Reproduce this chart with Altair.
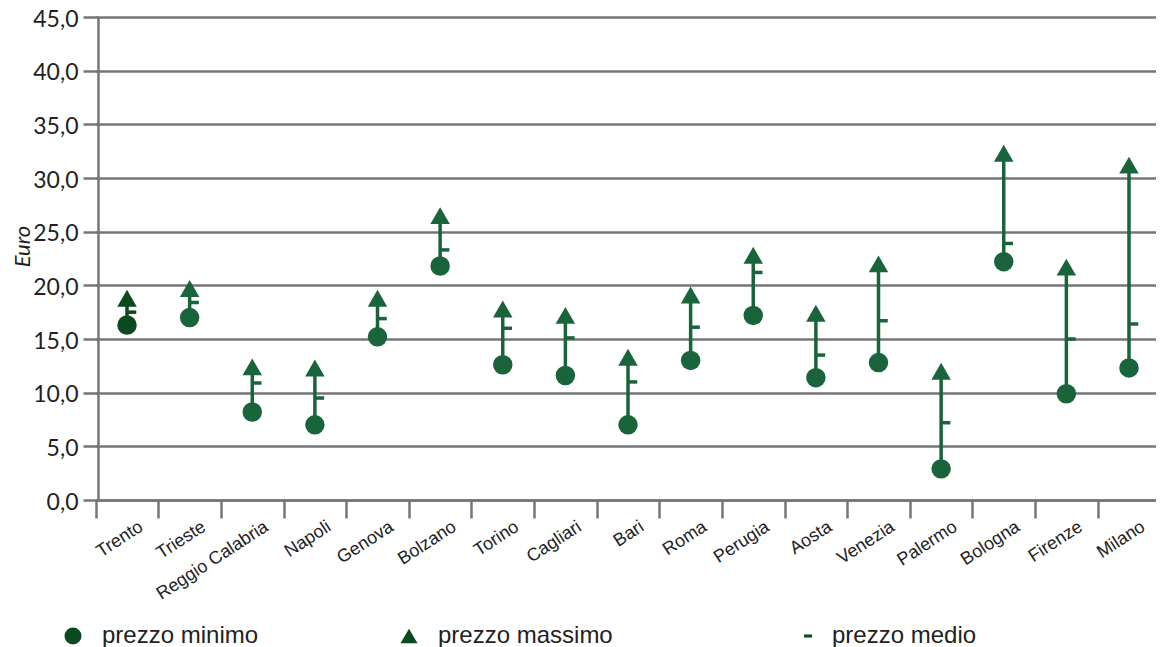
import altair as alt
import pandas as pd

cities = ["Trento", "Trieste", "Reggio Calabria", "Napoli", "Genova", "Bolzano",
          "Torino", "Cagliari", "Bari", "Roma", "Perugia", "Aosta", "Venezia",
          "Palermo", "Bologna", "Firenze", "Milano"]
prezzo_minimo = [16.3, 17.0, 8.2, 7.0, 15.2, 21.8, 12.6, 11.6, 7.0, 13.0, 17.2,
                 11.4, 12.8, 2.9, 22.2, 9.9, 12.3]
prezzo_massimo = [18.8, 19.7, 12.4, 12.3, 18.8, 26.5, 17.8, 17.2, 13.3, 19.1, 22.8,
                  17.4, 22.0, 12.0, 32.3, 21.7, 31.2]
prezzo_medio = [17.5, 18.4, 10.9, 9.5, 16.9, 23.3, 16.0, 15.1, 11.0, 16.1, 21.2,
                13.5, 16.7, 7.2, 23.9, 15.0, 16.4]
serie_labels = ["prezzo minimo", "prezzo massimo", "prezzo medio"]
y_ticks = [0, 5, 10, 15, 20, 25, 30, 35, 40, 45]

DARK = "#0b4a1f"
GREEN = "#1a643b"
GRID = "#767676"
DASH = "M0,-0.18 L0.95,-0.18 L0.95,0.18 L0,0.18 Z"

wide = pd.DataFrame({"citta": cities, "minimo": prezzo_minimo,
                     "massimo": prezzo_massimo, "medio": prezzo_medio})
rows_mm = []
rows_med = []
for c, a, b, m in zip(cities, prezzo_minimo, prezzo_massimo, prezzo_medio):
    rows_mm.append({"citta": c, "serie": serie_labels[0], "valore": a})
    rows_mm.append({"citta": c, "serie": serie_labels[1], "valore": b})
    rows_med.append({"citta": c, "serie_m": serie_labels[2], "valore": m})
long_mm = pd.DataFrame(rows_mm)
long_med = pd.DataFrame(rows_med)

color = alt.condition(alt.datum.citta != "Trento", alt.value(GREEN), alt.value(DARK))

x_scale = alt.Scale(paddingInner=0, paddingOuter=0, range=[-2.3, 1062.3])
x_enc = alt.X("citta:N", sort=cities, scale=x_scale,
              axis=alt.Axis(title=None, tickBand="extent", tickSize=18, tickWidth=2.5,
                            tickColor=GRID, domainColor=GRID, domainWidth=2.5,
                            labelAngle=327, labelAlign="right", labelBaseline="middle",
                            labelOffset=14, labelPadding=7, labelFont="Liberation Sans",
                            labelFontSize=18, labelColor="#222222", grid=False))
y_scale = alt.Scale(domain=[0, 45], nice=False)
y_axis = alt.Axis(values=y_ticks, labelExpr="replace(format(datum.value, '.1f'), '.', ',')",
                  tickSize=15, tickWidth=2.5, tickColor=GRID, labelPadding=5,
                  labelOffset=2,
                  labelFont="Lato", labelFontSize=23, labelColor="#231f20",
                  domainColor=GRID, domainWidth=2.5, grid=True, gridColor=GRID,
                  gridWidth=2.5, title="Euro", titleX=-69, titleY=229,
                  titleBaseline="alphabetic")

legend_common = dict(title=None, orient="none", direction="horizontal",
                     symbolSize=289, labelFont="Liberation Sans", labelFontSize=24,
                     labelColor="#222222", symbolFillColor=DARK, symbolStrokeWidth=0,
                     labelLimit=500)

rules = alt.Chart(wide).mark_rule(strokeWidth=3.5).encode(
    x=x_enc,
    y=alt.Y("minimo:Q", scale=y_scale, axis=y_axis),
    y2="massimo:Q",
    color=color,
)

points_mm = alt.Chart(long_mm).mark_point(filled=True, size=380, opacity=1, strokeWidth=0).encode(
    x=alt.X("citta:N", sort=cities),
    y=alt.Y("valore:Q", scale=y_scale),
    shape=alt.Shape("serie:N",
                    scale=alt.Scale(domain=serie_labels[:2], range=["circle", "triangle-up"]),
                    legend=alt.Legend(legendX=-37, legendY=607, columns=2, columnPadding=138,
                                      labelOffset=17, **legend_common)),
    color=color,
)

points_med = alt.Chart(long_med).mark_point(filled=True, size=380, opacity=1, strokeWidth=0).encode(
    x=alt.X("citta:N", sort=cities),
    y=alt.Y("valore:Q", scale=y_scale),
    shape=alt.Shape("serie_m:N",
                    scale=alt.Scale(domain=serie_labels[2:], range=[DASH]),
                    legend=alt.Legend(legendX=694, legendY=607, labelOffset=16,
                                      **legend_common)),
    color=color,
)

chart = alt.layer(rules, points_mm, points_med).resolve_scale(
    shape="independent"
).resolve_legend(shape="independent").properties(
    width=1055, height=483,
    autosize=alt.AutoSizeParams(type="none"),
    padding={"left": 90, "top": 9, "right": 3, "bottom": 147},
    background="white",
).configure_view(stroke=None).configure_axisY(
    titleFont="Lato", titleFontSize=22, titleFontStyle="italic",
    titleFontWeight="normal", titleColor="#231f20",
)

chart.save("out.html", embed_options={"renderer": "svg", "actions": False})
